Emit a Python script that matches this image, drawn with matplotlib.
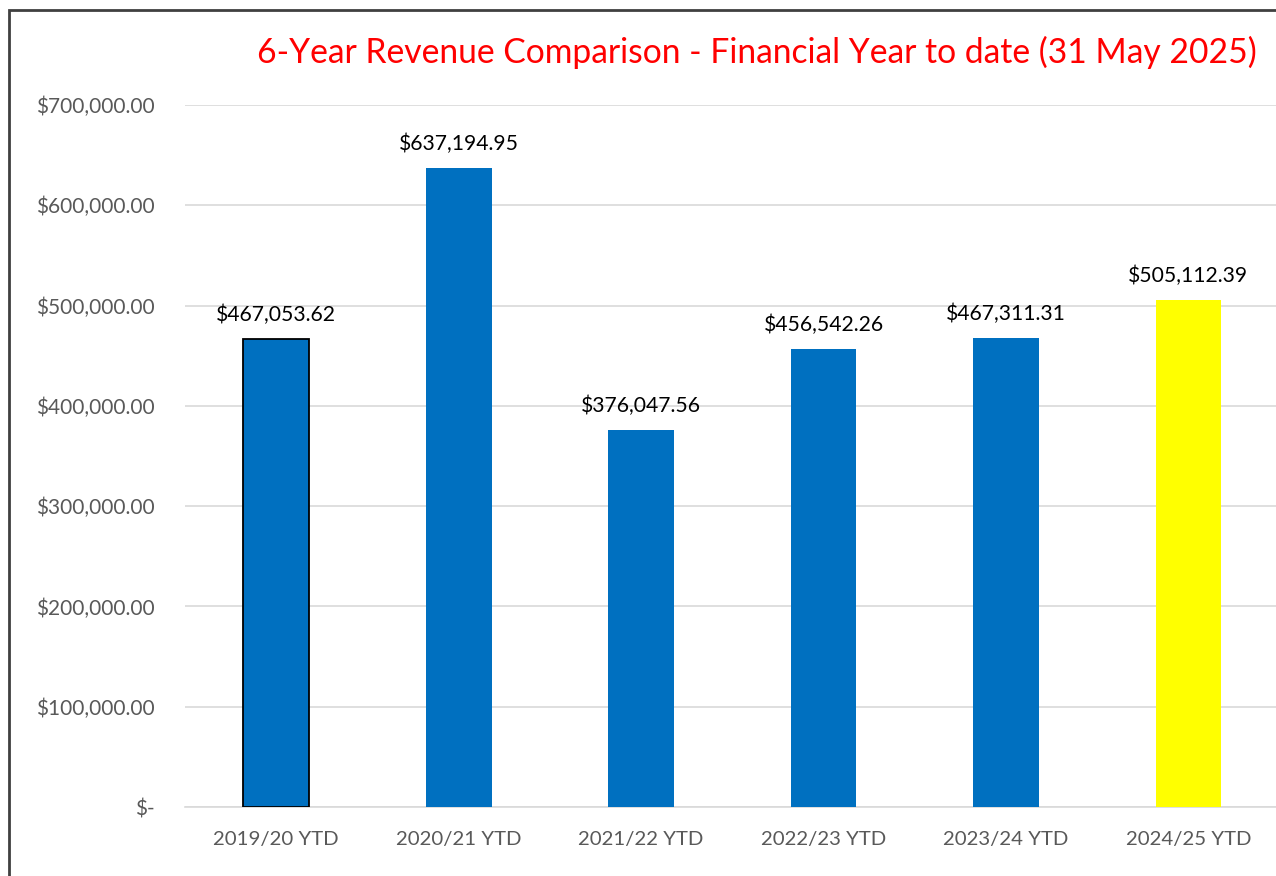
import matplotlib
matplotlib.use("Agg")
import matplotlib.pyplot as plt
from matplotlib.patches import Rectangle
from matplotlib.ticker import FuncFormatter

categories = ["2019/20 YTD", "2020/21 YTD", "2021/22 YTD", "2022/23 YTD", "2023/24 YTD", "2024/25 YTD"]
revenue = [467053.62, 637194.95, 376047.56, 456542.26, 467311.31, 505112.39]
bar_colors = ["#0070C0", "#0070C0", "#0070C0", "#0070C0", "#0070C0", "#FFFF00"]
edge_colors = ["#000000", "none", "none", "none", "none", "none"]
title = "6-Year Revenue Comparison - Financial Year to date (31 May 2025)"

plt.rcParams['font.family'] = ['Lato', 'DejaVu Sans']

fig = plt.figure(figsize=(12.76, 8.76), dpi=100)
ax = fig.add_axes([185/1276, 1 - 807/876, 1 - 185/1276, (807 - 105)/876])

x = list(range(len(categories)))
bars = ax.bar(x, revenue, width=0.36, color=bar_colors, zorder=3)
for b, ec in zip(bars, edge_colors):
    if ec != "none":
        b.set_edgecolor(ec)
        b.set_linewidth(1.3)

for xi, v in zip(x, revenue):
    ax.annotate(f"${v:,.2f}", (xi, v), xytext=(0, 10), textcoords="offset points",
                ha="center", va="bottom", fontsize=15.2, color="#000000")

ax.set_xlim(-0.5, 5.48)
ax.set_ylim(0, 700000)
ax.set_yticks(range(0, 700001, 100000))

def fmt(v, pos):
    if v == 0:
        return "$-"
    return f"${v:,.2f}"

ax.yaxis.set_major_formatter(FuncFormatter(fmt))
ax.set_xticks(x)
ax.set_xticklabels(categories)
ax.tick_params(axis="y", length=0, labelsize=15, labelcolor="#595959", pad=21.5)
ax.tick_params(axis="x", length=0, labelsize=14.7, labelcolor="#595959", pad=17)
ax.grid(axis="y", color="#D9D9D9", linewidth=1.2, zorder=0)
for s in ["top", "right", "left"]:
    ax.spines[s].set_visible(False)
ax.spines["bottom"].set_color("#D9D9D9")
ax.spines["bottom"].set_linewidth(1.2)

fig.text(757/1276, 1 - 52/876, title, color="#FF0000", fontsize=24.2,
         ha="center", va="center")

fig.patches.append(Rectangle((9/1276, -0.1), 1.2, 1 - 10/876 + 0.1,
                             transform=fig.transFigure, fill=False,
                             edgecolor="#404040", linewidth=2))

fig.savefig("out.png", dpi=100)
